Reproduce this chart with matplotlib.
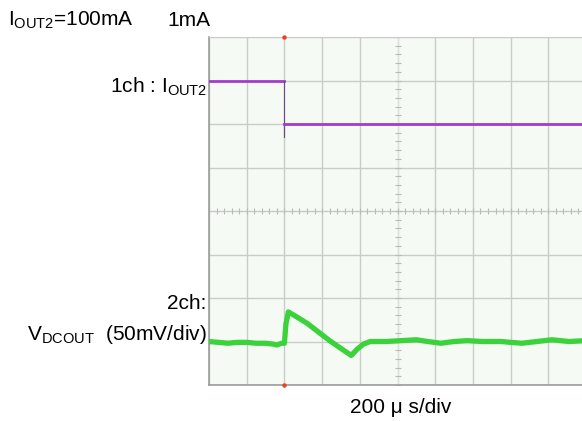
import numpy as np
import matplotlib
matplotlib.use("Agg")
import matplotlib.pyplot as plt

plt.rcParams["font.family"] = ["Liberation Sans", "DejaVu Sans"]
plt.rcParams["mathtext.fontset"] = "custom"
plt.rcParams["mathtext.rm"] = "Liberation Sans"
plt.rcParams["mathtext.it"] = "Liberation Sans:italic"

# time axis: 200 us/div, 10 div, trigger at 0
T_MIN = -400
T_MAX = 1600
US_PER_DIV = 200

# ch1: output current (mA), 100 mA/div, ground at 6 div
ch1_t = [-400, 0, 0, 0, 8, 1600]
ch1_ma = [100, 100, -30, 1, 1, 1]
CH1_MA_PER_DIV = 100
CH1_OFFSET = 6

# ch2: V_DCOUT deviation (mV), 50 mV/div, ground at 1 div
ch2_t = [-400, -350, -300, -250, -200, -150, -100, -60, -40, -15, 0, 8, 21,
         60, 120, 180, 240, 300, 355, 385, 419, 456, 540, 620, 700, 760,
         830, 900, 970, 1050, 1150, 1200, 1260, 1340, 1420, 1510, 1600]
ch2_mv = [0, -1, -2, -1, -1, -2, -2, -3, -4, -2, -2, 20, 34,
          29, 21, 11, 1, -8, -16, -9, -3, 0, 0, 1, 2, 0,
          -2, 0, 1, 0, 0, -1, -2, 0, 2, 0, 1]
CH2_MV_PER_DIV = 50
CH2_OFFSET = 1

fig = plt.figure(figsize=(5.82, 4.21), dpi=100)
fig.patch.set_facecolor("white")
ax = fig.add_axes([209 / 582, 1 - 385 / 421, 377 / 582, 348 / 421])
ax.set_facecolor("#f5faf5")
ax.set_xlim(T_MIN, T_MAX)
ax.set_ylim(0, 8)

# graticule
for xv in np.arange(T_MIN, T_MAX + 1, US_PER_DIV):
    ax.axvline(xv, color="#c9cdc9", lw=1.0, zorder=1)
for yv in range(0, 9):
    ax.axhline(yv, color="#c9cdc9", lw=1.0, zorder=1)

# center cross with small ticks
xc = (T_MIN + T_MAX) / 2
ax.axvline(xc, color="#dde1dd", lw=0.7, zorder=1)
ax.axhline(4, color="#c4c8c4", lw=0.8, ls=(0, (2, 2)), zorder=1)
ax.plot(np.arange(T_MIN, T_MAX + 1, US_PER_DIV / 5), [4] * 51, "|",
        color="#b8bcb8", ms=4, mew=0.8, zorder=1)
ax.plot([xc] * 41, np.arange(0, 8.01, 0.2), "_",
        color="#b8bcb8", ms=4, mew=0.8, zorder=1)

for s in ["left", "bottom"]:
    ax.spines[s].set_color("#9a9e9a")
    ax.spines[s].set_linewidth(1.2)
for s in ["top", "right"]:
    ax.spines[s].set_color("#c9cdc9")
ax.set_xticks([])
ax.set_yticks([])

y1 = [CH1_OFFSET + v / CH1_MA_PER_DIV for v in ch1_ma]
y2 = [CH2_OFFSET + v / CH2_MV_PER_DIV for v in ch2_mv]
ax.plot(ch1_t[:2], y1[:2], color="#a23ccc", lw=2.0, zorder=3)
ax.plot(ch1_t[1:4], y1[1:4], color="#6a4a80", lw=0.8, zorder=3)
ax.plot(ch1_t[3:], y1[3:], color="#a23ccc", lw=2.0, zorder=3)
ax.plot(ch2_t, y2, color="#3cd23c", lw=3.8, solid_joinstyle="round", zorder=3)

# trigger markers
ax.plot([0, 0], [8, 0], "o", color="#f04020", ms=2.2, clip_on=False, zorder=4)

fs = 15
def fy(px):
    return 1 - px / 421

fig.text(8 / 582, fy(26), r"I$_{\mathregular{OUT2}}$=100mA", fontsize=fs, va="baseline")
fig.text(167 / 582, fy(26), "1mA", fontsize=fs, va="baseline")
fig.text(207 / 582, fy(93), r"1ch : I$_{\mathregular{OUT2}}$", fontsize=fs,
         ha="right", va="baseline")
fig.text(206 / 582, fy(309), "2ch:", fontsize=fs, ha="right", va="baseline")
fig.text(207 / 582, fy(340), r"V$_{\mathregular{DCOUT}}$  (50mV/div)", fontsize=fs,
         ha="right", va="baseline")
fig.text(350 / 582, fy(413), "200 \u03bc s/div", fontsize=fs, va="baseline")

fig.savefig("out.png", dpi=100)
